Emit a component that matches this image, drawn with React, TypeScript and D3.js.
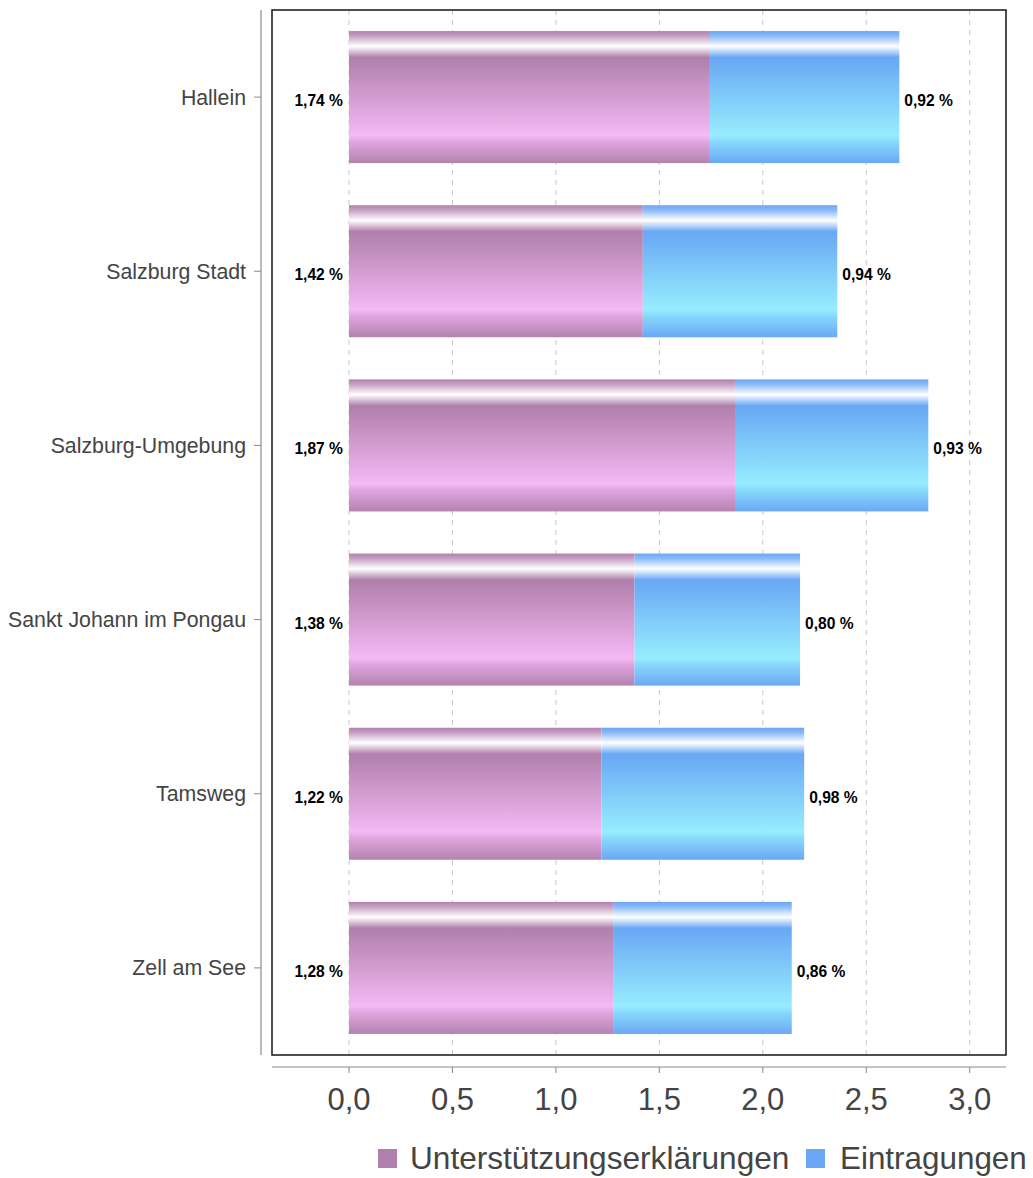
import React from "react";
import * as d3 from "d3";

const categories = ["Hallein", "Salzburg Stadt", "Salzburg-Umgebung", "Sankt Johann im Pongau", "Tamsweg", "Zell am See"];
const unterstuetzung = [1.74, 1.42, 1.87, 1.38, 1.22, 1.28];
const eintragungen = [0.92, 0.94, 0.93, 0.8, 0.98, 0.86];
const xTicks = [0, 0.5, 1, 1.5, 2, 2.5, 3];
const seriesNames = ["Unterstützungserklärungen", "Eintragungen"];

const W = 1033;
const H = 1178;
const panel = { left: 272, right: 1006, top: 10, bottom: 1055 };
const font = "'Liberation Sans', Arial, Helvetica, sans-serif";

const fmt = (v: number) => v.toFixed(2).replace(".", ",") + " %";
const fmtTick = (v: number) => v.toFixed(1).replace(".", ",");

export default function App() {
  const x = d3.scaleLinear().domain([0, 3]).range([349, 969.7]);
  const y = d3
    .scaleBand<string>()
    .domain(categories)
    .range([panel.top, panel.bottom])
    .paddingInner(0.242)
    .paddingOuter(0.121);
  const bw = y.bandwidth();

  return (
    <svg
      width={W}
      height={H}
      style={{ position: "absolute", left: 0, top: 0, fontFamily: font }}
    >
      <defs>
        <linearGradient id="gPink" x1="0" y1="0" x2="0" y2="1">
          <stop offset="0" stopColor="#b080ad" />
          <stop offset="0.04" stopColor="#c9a3c6" />
          <stop offset="0.115" stopColor="#ffffff" />
          <stop offset="0.2" stopColor="#b07fab" />
          <stop offset="0.79" stopColor="#f5b9f5" />
          <stop offset="0.84" stopColor="#e0a5df" />
          <stop offset="1" stopColor="#b383ae" />
        </linearGradient>
        <linearGradient id="gBlue" x1="0" y1="0" x2="0" y2="1">
          <stop offset="0" stopColor="#6aa6f5" />
          <stop offset="0.04" stopColor="#8dbcf7" />
          <stop offset="0.115" stopColor="#ffffff" />
          <stop offset="0.2" stopColor="#69a7f4" />
          <stop offset="0.79" stopColor="#97edfe" />
          <stop offset="0.84" stopColor="#88d8fc" />
          <stop offset="1" stopColor="#6aa8f5" />
        </linearGradient>
      </defs>

      {/* grid lines */}
      {xTicks.map((t) => (
        <line
          key={"g" + t}
          x1={x(t)}
          x2={x(t)}
          y1={panel.top}
          y2={panel.bottom}
          stroke="#c8c8c8"
          strokeWidth={1}
          strokeDasharray="5,5"
        />
      ))}

      {/* bars */}
      {categories.map((c, i) => {
        const y0 = y(c)!;
        const a = unterstuetzung[i];
        const b = eintragungen[i];
        return (
          <g key={c}>
            <rect x={x(0)} y={y0} width={x(a) - x(0)} height={bw} fill="url(#gPink)" />
            <rect x={x(a)} y={y0} width={x(a + b) - x(a)} height={bw} fill="url(#gBlue)" />
            <text
              x={x(0) - 6}
              y={y0 + bw / 2 + 9}
              textAnchor="end"
              fontSize={15.6}
              fontWeight="bold"
              fill="#000"
            >
              {fmt(a)}
            </text>
            <text
              x={x(a + b) + 5}
              y={y0 + bw / 2 + 9}
              textAnchor="start"
              fontSize={15.6}
              fontWeight="bold"
              fill="#000"
            >
              {fmt(b)}
            </text>
          </g>
        );
      })}

      {/* panel border */}
      <rect
        x={panel.left}
        y={panel.top}
        width={panel.right - panel.left}
        height={panel.bottom - panel.top}
        fill="none"
        stroke="#222"
        strokeWidth={1.6}
      />

      {/* left axis */}
      <line x1={261} x2={261} y1={panel.top} y2={panel.bottom} stroke="#8a8a8a" strokeWidth={1.2} />
      {categories.map((c) => {
        const cy = y(c)! + bw / 2;
        return (
          <g key={"yl" + c}>
            <line x1={254} x2={261} y1={cy} y2={cy} stroke="#8a8a8a" strokeWidth={1} />
            <text x={246} y={cy + 7.5} textAnchor="end" fontSize={21.3} fill="#444">
              {c}
            </text>
          </g>
        );
      })}

      {/* bottom axis */}
      <line x1={panel.left} x2={panel.right} y1={1067} y2={1067} stroke="#8a8a8a" strokeWidth={1.2} />
      {xTicks.map((t) => (
        <g key={"xt" + t}>
          <line x1={x(t)} x2={x(t)} y1={1067} y2={1073} stroke="#8a8a8a" strokeWidth={1} />
          <text x={x(t)} y={1110} textAnchor="middle" fontSize={31} fill="#444">
            {fmtTick(t)}
          </text>
        </g>
      ))}

      {/* legend */}
      <rect x={378} y={1149} width={19} height={19} fill="#b07fad" />
      <text x={410} y={1169} fontSize={31.6} fill="#444">
        {seriesNames[0]}
      </text>
      <rect x={806} y={1149} width={19} height={19} fill="#6aa8f5" />
      <text x={840} y={1169} fontSize={31.4} fill="#444">
        {seriesNames[1]}
      </text>
    </svg>
  );
}
